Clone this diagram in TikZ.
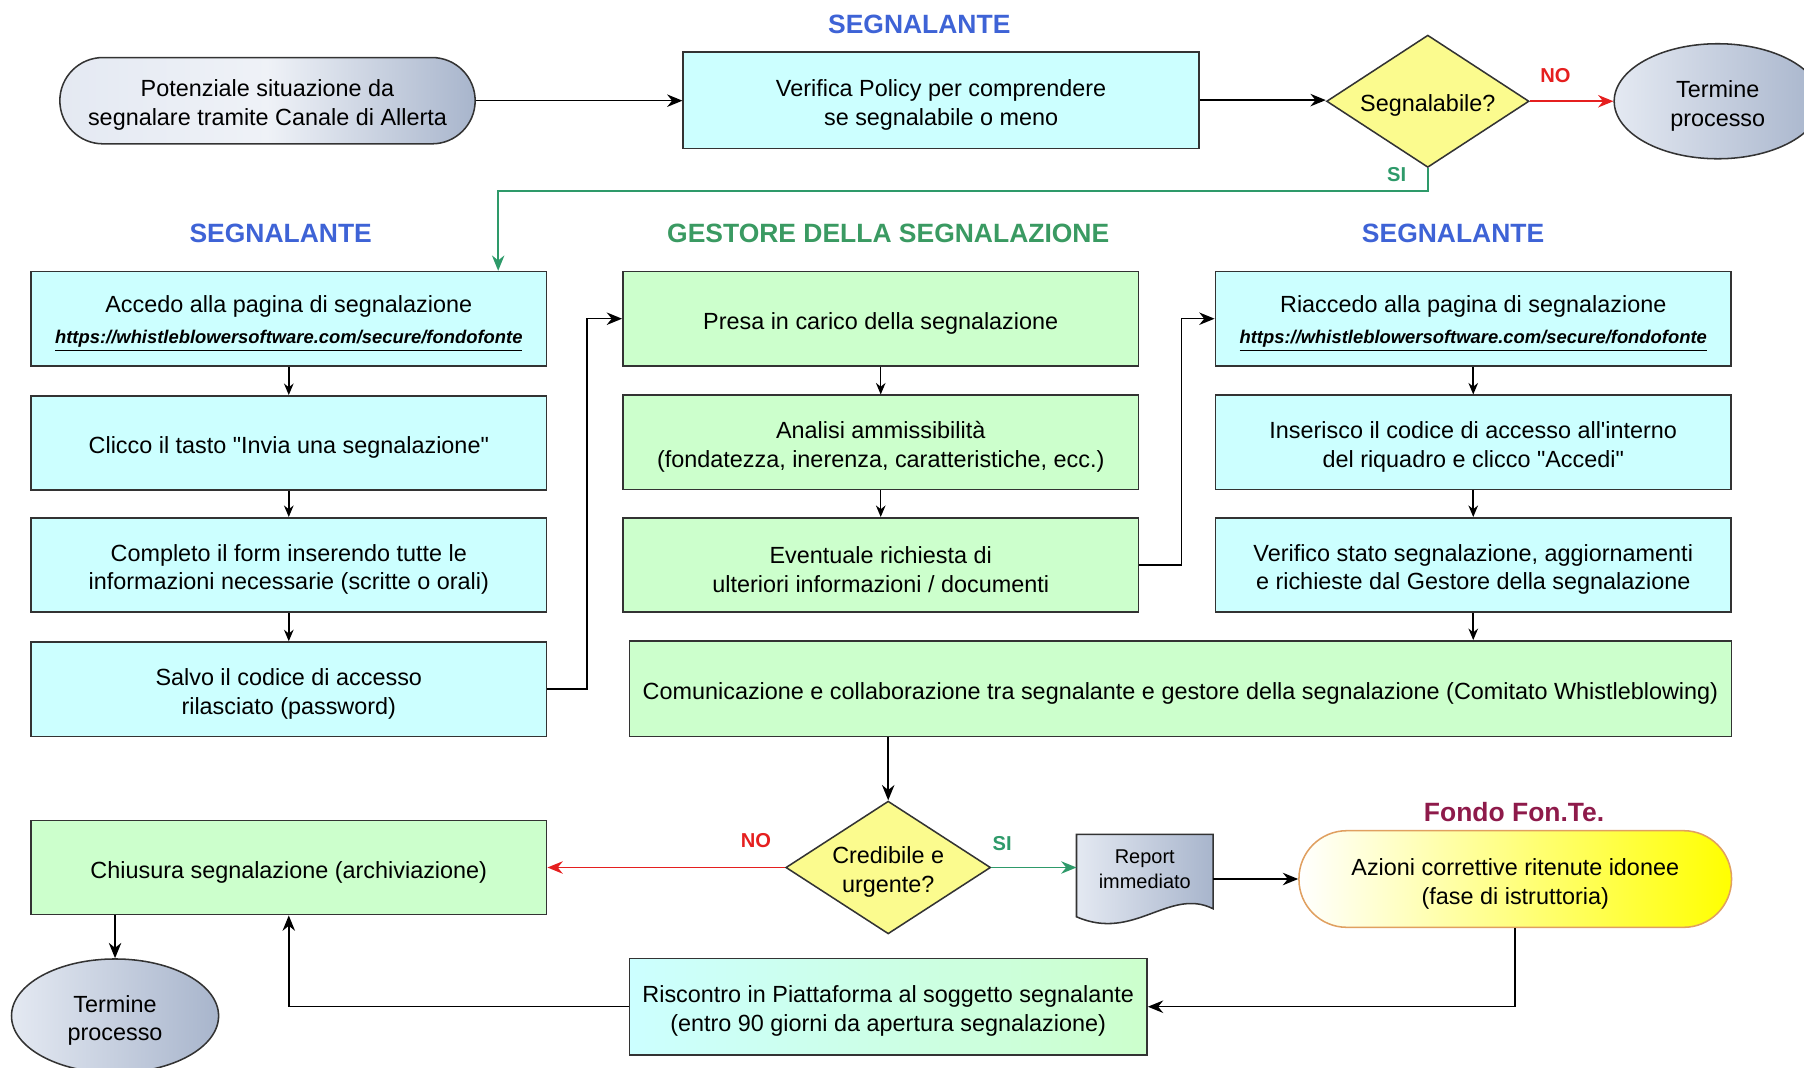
\documentclass[tikz,border=0pt]{standalone}
\usepackage{fontspec}
\setmainfont{Liberation Sans}
\usetikzlibrary{shapes.geometric,arrows.meta,calc}
\definecolor{cyanbox}{HTML}{CCFFFF}
\definecolor{greenbox}{HTML}{CCFFCC}
\definecolor{bordc}{HTML}{333333}
\definecolor{diamc}{HTML}{FBFB8E}
\definecolor{titleblue}{HTML}{3E63D6}
\definecolor{titlegreen}{HTML}{3A9A62}
\definecolor{titlemaroon}{HTML}{8E1A4A}
\definecolor{nored}{HTML}{E51F1F}
\definecolor{sigreen}{HTML}{2E9A6A}
\definecolor{termL}{HTML}{E4E9F2}
\definecolor{termR}{HTML}{A8B5CC}
\definecolor{aziborder}{HTML}{E0A060}
\newcommand{\fs}{\rule{0pt}{13.6pt}}
\begin{document}
\begin{tikzpicture}[x=0.6pt,y=-0.6pt,
  base/.style={draw=bordc, line width=0.8pt, align=center, font=\fontsize{12.2}{15}\selectfont, inner sep=0pt,
               execute at begin node={\fs}},
  cbox/.style={base, rectangle, fill=cyanbox, minimum width=269pt, minimum height=49.2pt},
  gbox/.style={base, rectangle, fill=greenbox, minimum width=269pt, minimum height=49.2pt},
  decis/.style={base, diamond, fill=diamc, aspect=1.53},
  termell/.style={base, ellipse, left color=termL, right color=termR},
  ttl/.style={font=\fontsize{13.8}{16}\selectfont\bfseries},
  lbl/.style={font=\fontsize{10.5}{12}\selectfont\bfseries},
  arr/.style={-{Stealth[length=8pt,width=6.5pt]}, line width=0.8pt, draw=black},
  sarr/.style={-{Stealth[length=6pt,width=5pt]}, line width=0.8pt, draw=black},
  redarr/.style={arr, draw=nored, -{Stealth[length=8pt,width=6.5pt,fill=nored]}},
  grnarr/.style={arr, draw=sigreen, -{Stealth[length=8pt,width=6.5pt,fill=sigreen]}},
]
\useasboundingbox (0,0) rectangle (1568,928);
\newcommand{\urltext}{{\fontsize{9.6}{12}\selectfont\bfseries\itshape\underline{https://whistleblowersoftware.com/secure/fondofonte}}}

% titles
\node[ttl, text=titleblue] (t1) at (799,21) {SEGNALANTE};
\node[ttl, text=titleblue] (t2) at (244,203) {SEGNALANTE};
\node[ttl, text=titlegreen] (t3) at (772,203) {GESTORE DELLA SEGNALAZIONE};
\node[ttl, text=titleblue] (t4) at (1263,203) {SEGNALANTE};
\node[ttl, text=titlemaroon] (t5) at (1316,706) {Fondo Fon.Te.};

% top row
\node[base, rectangle, rounded corners=22.5pt, minimum width=216.6pt, minimum height=45pt,
      left color=termL, right color=termR, middle color=termL!60!white] (start) at (232.5,87.5)
      {\fs Potenziale situazione da\\segnalare tramite Canale di Allerta};
\node[cbox, minimum height=50.4pt] (verb) at (818,87) {\fs Verifica Policy per comprendere\\se segnalabile o meno};
\node[decis, minimum width=105.6pt, minimum height=69pt] (seg) at (1241,88) {Segnalabile?};
\node[termell, minimum width=108pt, minimum height=60pt] (term1) at (1493,88) {\fs Termine\\processo};

% left column
\node[cbox] (acc) at (251,277) {\fs Accedo alla pagina di segnalazione\\[1.5pt]\urltext};
\node[cbox] (cli) at (251,385) {Clicco il tasto \textquotedbl Invia una segnalazione\textquotedbl};
\node[cbox] (com) at (251,491) {\fs Completo il form inserendo tutte le\\informazioni necessarie (scritte o orali)};
\node[cbox] (sal) at (251,599) {\fs Salvo il codice di accesso\\rilasciato (password)};

% middle column
\node[gbox] (pre) at (765.5,277) {Presa in carico della segnalazione};
\node[gbox] (ana) at (765.5,384.5) {\fs Analisi ammissibilit\`a\\(fondatezza, inerenza, caratteristiche, ecc.)};
\node[gbox] (eve) at (765.5,491) {\fs Eventuale richiesta di\\ulteriori informazioni / documenti};

% right column
\node[cbox] (ria) at (1280.5,277) {\fs Riaccedo alla pagina di segnalazione\\[1.5pt]\urltext};
\node[cbox] (ins) at (1280.5,384.5) {\fs Inserisco il codice di accesso all\textquotesingle interno\\del riquadro e clicco \textquotedbl Accedi\textquotedbl};
\node[cbox] (ver) at (1280.5,491) {\fs Verifico stato segnalazione, aggiornamenti\\e richieste dal Gestore della segnalazione};

% communication
\node[base, rectangle, minimum width=574.8pt, minimum height=49.8pt,
      left color=greenbox, middle color=cyanbox, right color=greenbox] (comm) at (1026,598.5)
      {Comunicazione e collaborazione tra segnalante e gestore della segnalazione (Comitato Whistleblowing)};

% bottom part
\node[decis, minimum width=106.8pt, minimum height=68.4pt] (cred) at (772,754) {\fs Credibile e\\urgente?};
\node[gbox] (chi) at (251,754) {Chiusura segnalazione (archiviazione)};
\node[termell, minimum width=108pt, minimum height=59.4pt] (term2) at (100,883) {\fs Termine\\processo};
\node[draw=none, rectangle, minimum width=70.8pt, minimum height=42.6pt, inner sep=0pt] (repshape) at (995,761) {};
\fill[left color=termL, right color=termR] (repshape.north west) -- (repshape.north east) -- ($(repshape.south east)+(0,-7)$)
   .. controls ($(repshape.south east)+(-38,-26)$) and ($(repshape.south west)+(50,22)$) .. (repshape.south west) -- cycle;
\draw[bordc, line width=0.8pt] (repshape.north west) -- (repshape.north east) -- ($(repshape.south east)+(0,-7)$)
   .. controls ($(repshape.south east)+(-38,-26)$) and ($(repshape.south west)+(50,22)$) .. (repshape.south west) -- cycle;
\node[align=center, font=\fontsize{10.4}{12.6}\selectfont] (reptext) at (995,755.5) {Report\\immediato};
\node[base, draw=aziborder, rectangle, rounded corners=25pt, minimum width=225.6pt, minimum height=50.4pt,
      left color=white, right color=yellow] (azi) at (1317,764) {\fs Azioni correttive ritenute idonee\\(fase di istruttoria)};
\node[base, rectangle, minimum width=270pt, minimum height=50.4pt,
      left color=cyanbox, right color=greenbox] (ris) at (772,875) {\fs Riscontro in Piattaforma al soggetto segnalante\\(entro 90 giorni da apertura segnalazione)};

% labels
\node[lbl, text=nored] (no1) at (1352,66) {NO};
\node[lbl, text=sigreen] (si1) at (1214,152) {SI};
\node[lbl, text=nored] (no2) at (657,731) {NO};
\node[lbl, text=sigreen] (si2) at (871,733) {SI};

% connectors top
\draw[arr] (start.east) -- (start.east -| verb.west);
\draw[arr] (verb.east) -- (verb.east -| seg.west);
\draw[redarr] (seg.east) -- (term1.west);
\coordinate (siturn) at (433,166);
\draw[grnarr] (seg.south) |- (siturn) -- (siturn |- acc.north);

% left column
\draw[sarr] (acc.south) -- (cli.north);
\draw[sarr] (cli.south) -- (com.north);
\draw[sarr] (com.south) -- (sal.north);
\coordinate (j1) at (510,0);
\draw[arr] (sal.east) -| (j1 |- pre.west) -- (pre.west);

% middle column
\draw[sarr] (pre.south) -- (ana.north);
\draw[sarr] (ana.south) -- (eve.north);
\coordinate (j2) at (1027,0);
\draw[arr] (eve.east) -| (j2 |- ria.west) -- (ria.west);

% right column
\draw[sarr] (ria.south) -- (ins.north);
\draw[sarr] (ins.south) -- (ver.north);
\draw[sarr] (ver.south) -- (ver.south |- comm.north);

% bottom
\draw[arr] (cred.north |- comm.south) -- (cred.north);
\draw[redarr] (cred.west) -- (cred.west -| chi.east);
\draw[grnarr] (cred.east) -- (cred.east -| repshape.west);
\draw[arr] (repshape.east |- azi.west) -- (azi.west);
\draw[arr] (term2.north |- chi.south) -- (term2.north);
\draw[arr] (azi.south) |- (ris.east);
\draw[arr] (ris.west) -| (chi.south);
\end{tikzpicture}
\end{document}
